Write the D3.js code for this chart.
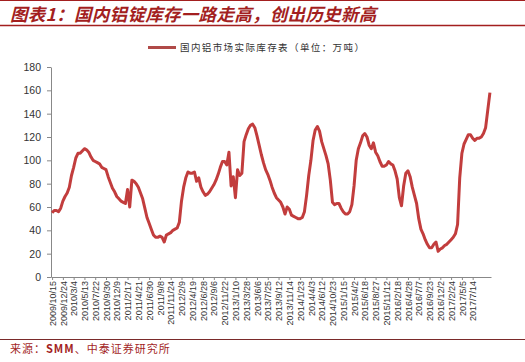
<!DOCTYPE html>
<html lang="zh-CN">
<head>
<meta charset="UTF-8">
<title>国内铝锭库存</title>
<style>
  body { margin: 0; background: #fff; }
  svg { display: block; }
</style>
</head>
<body>
<script src="https://cdn.jsdelivr.net/npm/d3@7/dist/d3.min.js"></script>
<script>
// x labels, one every 10 weeks
var tickLabels = ["2009/10/15","2009/12/24","2010/3/4","2010/5/13","2010/7/22","2010/9/30","2010/12/9",
  "2011/2/17","2011/4/21","2011/6/30","2011/9/8","2011/11/24","2012/2/9","2012/4/19","2012/6/28",
  "2012/9/6","2012/11/22","2013/1/10","2013/3/28","2013/6/6","2013/7/25","2013/9/12","2013/11/14",
  "2014/1/23","2014/4/3","2014/6/12","2014/10/23","2015/1/15","2015/4/2","2015/6/18","2015/8/27",
  "2015/11/12","2016/2/18","2016/4/28","2016/7/7","2016/9/23","2016/12/2","2017/2/24","2017/5/5","2017/7/14"];

// inventory (万吨), read every 2 weeks, 5 readings per label step
var stock = [55,57,57,56,59,65,69,72,77,87, 94,102,106,106,108,110,109,107,103,100,
  99,98,97,94,93,92,86,81,76,73, 69,67,65,64,63,75,60,83,82,80,
  77,72,67,59,51,46,41,36,34,34, 35,34,30,36,37,38,40,41,42,47,
  65,77,85,90,89,89,90,82,85,77, 73,70,71,73,76,79,83,88,94,99,
  99,96,107,78,86,68,92,87,89,116, 122,127,130,131,128,121,113,105,98,92,
  88,83,77,72,68,66,64,60,54,60, 58,53,52,51,50,50,51,56,70,87,
  100,117,126,129,125,116,110,104,97,83, 64,62,63,63,59,56,54,54,56,62,
  78,100,110,115,121,123,120,113,110,115, 107,104,99,95,95,96,99,97,96,91,
  84,68,61,78,89,91,86,77,70,63, 50,41,37,32,28,25,25,28,30,22,
  24,25,27,28,30,32,34,37,45,85, 106,114,118,122,122,119,117,119,119,120,
  123,128,143,158];

var yTicks = [0,20,40,60,80,100,120,140,160,180];
var perLabel = 5;

var width = 525, height = 362;
var red = "#a31f1f";
var lineColor = "#c23d3d";

var svg = d3.select("body").append("svg").attr("width", width).attr("height", height);

// header
svg.append("line").attr("x1",0).attr("x2",width).attr("y1",0.5).attr("y2",0.5)
  .attr("stroke",red).attr("stroke-width",1);
svg.append("text").attr("x",10).attr("y",21)
  .attr("font-family","'Noto Sans CJK SC'").attr("font-size","17.5px")
  .attr("font-weight","bold").attr("font-style","italic").attr("fill",red)
  .attr("letter-spacing","0.3px")
  .text("图表1：国内铝锭库存一路走高，创出历史新高");
svg.append("line").attr("x1",0).attr("x2",width).attr("y1",25.5).attr("y2",25.5)
  .attr("stroke",red).attr("stroke-width",1.5);

// legend
svg.append("line").attr("x1",148).attr("x2",176).attr("y1",47.5).attr("y2",47.5)
  .attr("stroke","#b04a48").attr("stroke-width",3);
svg.append("text").attr("x",180).attr("y",51)
  .attr("font-family","'Noto Sans CJK SC'").attr("font-size","9.5px")
  .attr("letter-spacing","1.4px").attr("fill","#333")
  .text("国内铝市场实际库存表（单位：万吨）");

// scales
var x = d3.scaleLinear().domain([-0.5, stock.length - 0.5]).range([51, 491]);
var y = d3.scaleLinear().domain([0, 180]).range([277, 67]);

var yAxis = d3.axisLeft(y).tickValues(yTicks).tickSize(4).tickSizeOuter(0).tickPadding(6);
var gy = svg.append("g").attr("transform","translate(51,0)").call(yAxis);
gy.selectAll("text").attr("font-family","'Liberation Sans', Arial").attr("font-size","10.5px").attr("fill","#333");
gy.selectAll("line, path").attr("stroke","#888");

var xAxis = d3.axisBottom(x)
  .tickValues(d3.range(0, tickLabels.length * perLabel, perLabel))
  .tickFormat(function(d, i){ return tickLabels[i]; })
  .tickSize(3).tickSizeOuter(0);
var gx = svg.append("g").attr("transform","translate(0,277)").call(xAxis);
gx.selectAll("line, path").attr("stroke","#888");
gx.selectAll("text")
  .attr("font-family","'Liberation Sans', Arial").attr("font-size","9px").attr("fill","#333")
  .attr("text-anchor","end").attr("dy","0.35em")
  .attr("transform","translate(0,4) rotate(-90)")
  .attr("x",0).attr("y",0);

// series
var line = d3.line().x(function(d,i){ return x(i); }).y(function(d){ return y(d); });
svg.append("path").datum(stock).attr("d", line)
  .attr("fill","none").attr("stroke",lineColor).attr("stroke-width",3)
  .attr("stroke-linejoin","round");

// footer
svg.append("line").attr("x1",0).attr("x2",width).attr("y1",339.5).attr("y2",339.5)
  .attr("stroke","#7a2a2a").attr("stroke-width",1);
var src = svg.append("text").attr("x",10).attr("y",353)
  .attr("font-family","'Noto Sans CJK SC'").attr("font-size","11px")
  .attr("letter-spacing","1px").attr("fill",red);
src.append("tspan").text("来源：");
src.append("tspan").attr("font-weight","bold").text("SMM");
src.append("tspan").text("、中泰证券研究所");
</script>
</body>
</html>
